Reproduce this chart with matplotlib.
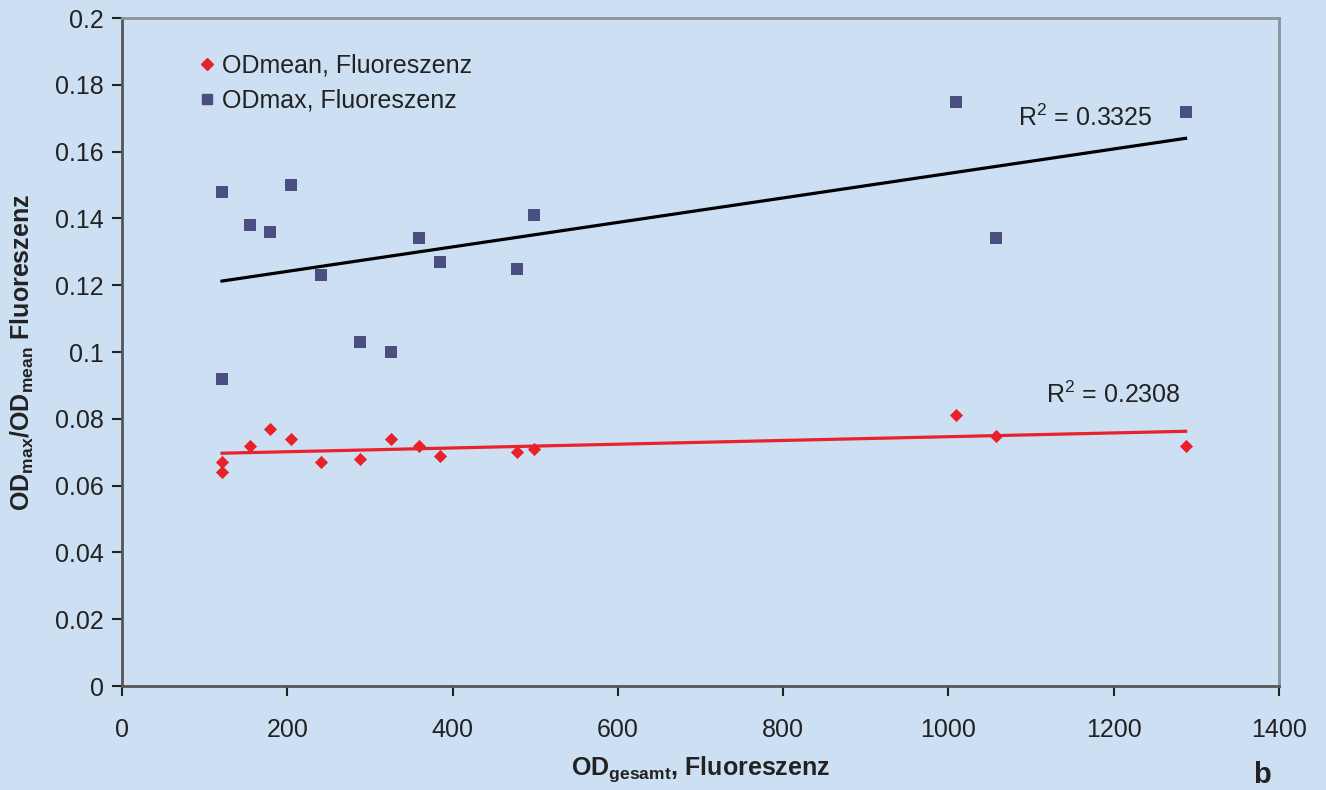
import numpy as np
import matplotlib
matplotlib.use("Agg")
import matplotlib.pyplot as plt
from matplotlib.lines import Line2D

plt.rcParams['font.family'] = ['Liberation Sans', 'DejaVu Sans']
plt.rcParams['mathtext.fontset'] = 'custom'
plt.rcParams['mathtext.rm'] = 'Liberation Sans'
plt.rcParams['mathtext.bf'] = 'Liberation Sans:bold'

# Data
x_max = [121, 205, 155, 179, 241, 359, 385, 478, 498, 288, 326, 121, 1009, 1287, 1057]
y_max = [0.148, 0.150, 0.138, 0.136, 0.123, 0.134, 0.127, 0.125, 0.141, 0.103, 0.100, 0.092, 0.175, 0.172, 0.134]

x_mean = [121, 121, 155, 179, 205, 241, 288, 326, 359, 385, 478, 498, 1009, 1057, 1287]
y_mean = [0.067, 0.064, 0.072, 0.077, 0.074, 0.067, 0.068, 0.074, 0.072, 0.069, 0.070, 0.071, 0.081, 0.075, 0.072]

label_mean = "ODmean, Fluoreszenz"
label_max = "ODmax, Fluoreszenz"
r2_max = "R$^2$ = 0.3325"
r2_mean = "R$^2$ = 0.2308"
x_ticks = [0, 200, 400, 600, 800, 1000, 1200, 1400]
y_ticks = [0, 0.02, 0.04, 0.06, 0.08, 0.1, 0.12, 0.14, 0.16, 0.18, 0.2]
y_ticklabels = ["0", "0.02", "0.04", "0.06", "0.08", "0.1", "0.12", "0.14", "0.16", "0.18", "0.2"]

bg = '#cddff3'
sq_color = '#4b4f7f'
dm_color = '#e8212b'
txt = '#222222'

fig = plt.figure(figsize=(13.26, 7.90), dpi=100, facecolor=bg)
ax = fig.add_axes([122/1326, 104/790, 1157/1326, 668/790])
ax.set_facecolor(bg)

ax.scatter(x_max, y_max, marker='s', s=85, color=sq_color, zorder=3, linewidths=0)
ax.scatter(x_mean, y_mean, marker='D', s=45, color=dm_color, zorder=3, linewidths=0)

# Trend lines
xm = np.array(x_max); ym = np.array(y_max)
p = np.polyfit(xm, ym, 1)
xl = np.array([xm.min(), xm.max()])
ax.plot(xl, np.polyval(p, xl), color='black', lw=2.3, zorder=2)

xn = np.array(x_mean); yn = np.array(y_mean)
q = np.polyfit(xn, yn, 1)
xl2 = np.array([xn.min(), xn.max()])
ax.plot(xl2, np.polyval(q, xl2), color=dm_color, lw=2.3, zorder=2)

ax.text(1166, 0.170, r2_max, fontsize=18, ha='center', va='center', color=txt)
ax.text(1200, 0.0871, r2_mean, fontsize=18, ha='center', va='center', color=txt)

ax.set_xlim(0, 1400)
ax.set_ylim(0, 0.2)
ax.set_xticks(x_ticks)
ax.set_yticks(y_ticks)
ax.set_yticklabels(y_ticklabels)
ax.tick_params(axis='both', labelsize=18, colors=txt, length=7, width=1.5, direction='out')
ax.tick_params(axis='y', pad=6)
ax.tick_params(axis='x', pad=16)

for s in ['left', 'bottom']:
    ax.spines[s].set_color('#555555')
    ax.spines[s].set_linewidth(2)
for s in ['top', 'right']:
    ax.spines[s].set_color('#8a9399')
    ax.spines[s].set_linewidth(2)

ax.set_xlabel("OD$_{\\mathbf{gesamt}}$, Fluoreszenz", fontsize=18, fontweight='bold', color=txt, labelpad=9)
ax.set_ylabel("OD$_{\\mathbf{max}}$/OD$_{\\mathbf{mean}}$ Fluoreszenz", fontsize=18, fontweight='bold', color=txt, labelpad=14)

handles = [Line2D([], [], marker='D', color=dm_color, linestyle='none', markersize=6),
           Line2D([], [], marker='s', color=sq_color, linestyle='none', markersize=7)]
leg = ax.legend(handles, [label_mean, label_max], loc='upper left', bbox_to_anchor=(0.058, 0.962),
                frameon=False, fontsize=18, handlelength=0.6, handletextpad=0.3, labelspacing=0.45,
                borderaxespad=0)
for t in leg.get_texts():
    t.set_color(txt)

fig.text(1262/1326, 1 - 775/790, "b", fontsize=21, fontweight='bold', ha='center', va='center', color=txt)

fig.savefig("out.png", dpi=100, facecolor=bg)
